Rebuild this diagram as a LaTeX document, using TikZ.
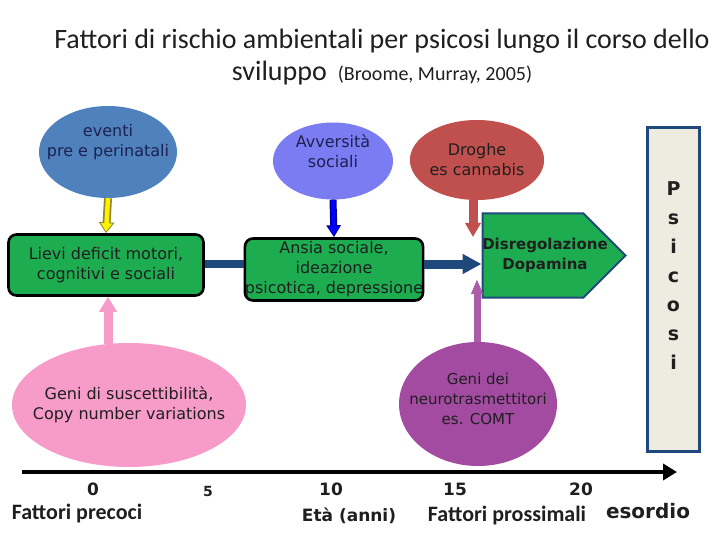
\documentclass[tikz,border=0pt]{standalone}
\usepackage{fontspec}
\setmainfont{DejaVu Sans}
\newfontfamily\calib{Carlito}
\usetikzlibrary{shapes.geometric,shapes.symbols,arrows.meta}
\definecolor{navyline}{HTML}{1F497D}
\definecolor{boxgreen}{HTML}{1DAD50}
\definecolor{evblue}{HTML}{4F81BD}
\definecolor{avvblue}{HTML}{7B7BF2}
\definecolor{drugred}{HTML}{C0504D}
\definecolor{genpurple}{HTML}{A24BA1}
\definecolor{genpink}{HTML}{F79BC9}
\definecolor{psifill}{HTML}{EEECE1}
\definecolor{darktext}{HTML}{1C2150}

\begin{document}
\begin{tikzpicture}[x=1pt,y=-1pt,
  every node/.style={font=\fontsize{16}{20}\selectfont,align=center,inner sep=0pt,text=black!88},
  blob/.style={ellipse,draw=none},
  greenbox/.style={rectangle,rounded corners=8pt,draw=black,line width=2.6pt,fill=boxgreen},
  numlab/.style={font=\fontsize{17}{20}\selectfont\bfseries},
  factlab/.style={font=\calib\fontsize{22}{24}\selectfont\bfseries}]
\useasboundingbox (0,0) rectangle (720,540);
\node[font=\calib\fontsize{28}{32}\selectfont] (title) at (382,57)
  {Fattori di rischio ambientali per psicosi lungo il corso dello\\
   sviluppo\, {\fontsize{20}{20}\selectfont (Broome, Murray, 2005)}};
\node[blob,fill=evblue,minimum width=138,minimum height=92,
  label={[yshift=10pt,text=darktext]center:eventi\\pre e perinatali}] (eventi) at (108,152) {};
\node[blob,fill=avvblue,minimum width=120,minimum height=77,
  label={[yshift=10pt,text=darktext]center:Avversità\\sociali}] (avversita) at (333,161) {};
\node[blob,fill=drugred,minimum width=130,minimum height=80] (droghe) at (477,160) {Droghe\\es cannabis};
\node[greenbox,minimum width=195,minimum height=61] (lievi) at (106,265) {Lievi deficit motori,\\cognitivi e sociali};
\node[greenbox,minimum width=175,minimum height=62] (ansia) at (334,269.5) {Ansia sociale,\\ideazione\\psicotica, depressione};
\node[signal,signal to=east,signal pointer angle=90,draw=navyline,line width=2pt,fill=boxgreen,
  minimum width=143,minimum height=84,
  label={[xshift=12pt,font=\fontsize{15}{20}\selectfont\bfseries]center:Disregolazione\\Dopamina}] (disreg) at (533,255.5) {};
\node[rectangle,draw=navyline,line width=2.5pt,fill=psifill,minimum width=52,minimum height=324,
  label={[yshift=14pt,font=\fontsize{19}{29}\selectfont\bfseries]center:P\\s\\i\\c\\o\\s\\i}] (psicosi) at (673.5,289.5) {};
\node[blob,fill=genpink,minimum width=234,minimum height=124,
  label={center:Geni di suscettibilità,\\Copy number variations}] (genisusc) at (129,405) {};
\node[blob,fill=genpurple,minimum width=158,minimum height=124,
  label={[yshift=5pt,font=\fontsize{15}{20}\selectfont]center:Geni dei\\neurotrasmettitori\\es. COMT}] (genidei) at (478,404) {};
\coordinate (midrow) at (0,264);
\coordinate (pinkfoot) at (108,344);
\coordinate (drugtip) at (473,237);
\coordinate (purptip) at (477,279);
\coordinate (tstart) at (22,472);
\coordinate (tend) at (677,472);
\draw[line width=8pt,draw=olive!70!gray,-{Triangle[length=11pt,width=15pt]}] (eventi.south) -- (lievi.north);
\draw[line width=4.5pt,draw=yellow,shorten >=1.5pt,-{Triangle[length=8.5pt,width=11pt,fill=yellow]}] (eventi.south) -- (lievi.north);
\draw[line width=7pt,draw=blue!55!black,-{Triangle[length=12pt,width=14pt]}] (avversita.south) -- (ansia.north);
\draw[line width=4pt,draw=blue,shorten >=1.5pt,-{Triangle[length=9.5pt,width=10.5pt]}] (avversita.south) -- (ansia.north);
\draw[line width=7.5pt,draw=navyline] (lievi.east |- midrow) -- (ansia.west |- midrow);
\draw[line width=9pt,draw=navyline,-{Triangle[length=19pt,width=19pt]}] (ansia.east |- midrow) -- (disreg.west |- midrow);
\draw[line width=9pt,draw=drugred,-{Triangle[length=14pt,width=15pt]}] (droghe.south -| drugtip) -- (drugtip);
\draw[line width=7pt,draw=genpurple!90!white,-{Triangle[length=15pt,width=11pt]}] (genidei.north -| purptip) -- (purptip);
\draw[line width=9pt,draw=genpink,-{Triangle[length=15pt,width=17pt]}] (pinkfoot) -- (lievi.south -| pinkfoot);
\draw[line width=4pt,-{Triangle[length=14pt,width=16pt]}] (tstart) -- (tend);
\node[numlab] (n0) at (93,489) {0};
\node[factlab] (precoci) at (77,514) {Fattori precoci};
\node[numlab,font=\fontsize{14}{16}\selectfont\bfseries] (n5) at (208,491) {5};
\node[numlab] (n10) at (331,489) {10};
\node[numlab] (eta) at (349,516) {Età (anni)};
\node[numlab] (n15) at (455,489) {15};
\node[factlab] (prossimali) at (507,516) {Fattori prossimali};
\node[numlab] (n20) at (581,489) {20};
\node[font=\fontsize{20}{24}\selectfont\bfseries] (esordio) at (648,511) {esordio};
\end{tikzpicture}
\end{document}
